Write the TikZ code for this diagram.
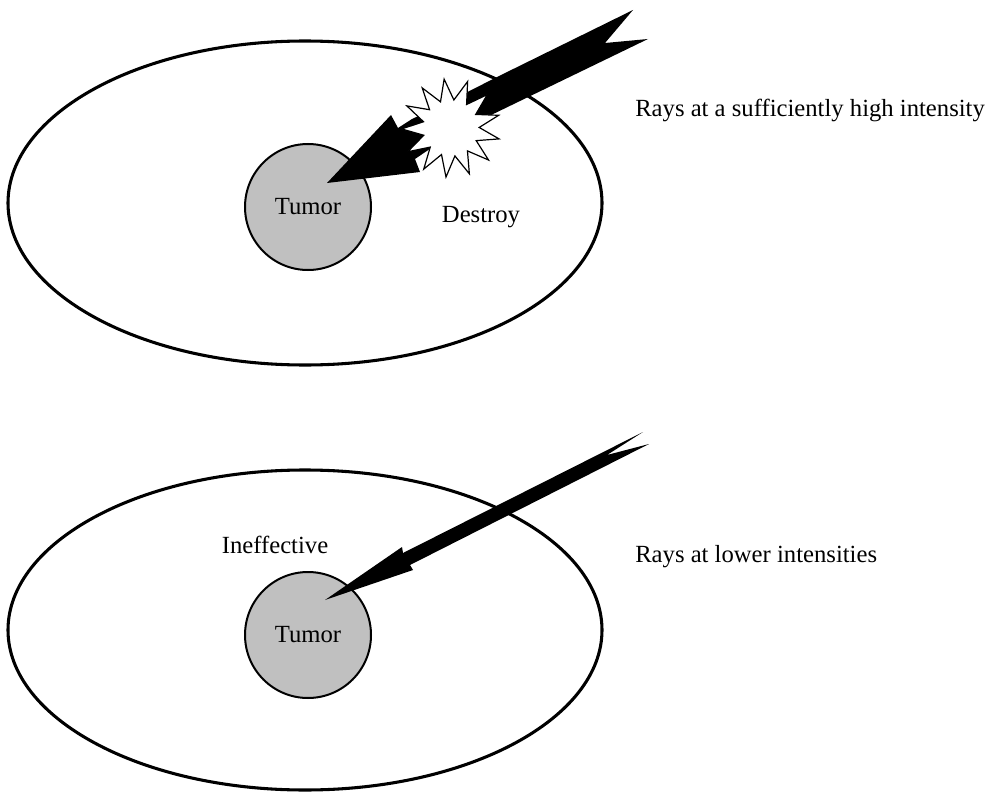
\documentclass[tikz,border=0pt]{standalone}
\usepackage{fontspec}
\setmainfont{Liberation Serif}
\definecolor{tumorgray}{RGB}{192, 192, 192}
\usetikzlibrary{shapes.geometric, positioning}

\begin{document}
\begin{tikzpicture}[
  x=0.75pt, y=-0.75pt,
  body/.style={line width=2.3pt},
  lbl/.style={inner sep=0pt, font=\fontsize{18.5}{22}\selectfont},
  tumor/.style={lbl, draw, circle, line width=1.5pt, fill=tumorgray, minimum size=94.5pt},
  ray/.style={fill=black},
  blast/.style={draw, fill=white, line width=0.9pt, star, star points=13, star point ratio=1.75,
    minimum size=74pt, inner sep=0pt}
]
  \useasboundingbox (0,0) rectangle (993,792);

  % high intensity
  \draw[body] (305,203) ellipse [x radius=222.75pt, y radius=121.5pt];
  \node[tumor] (tumorA) at (308,207) {Tumor};
  \fill[ray] (327,183) -- (391,115) -- (398,128) -- (412,119) -- (440,106) -- (497,77)
    -- (633,10) -- (605,43) -- (648,39) -- (487,117) -- (440,142) -- (415,159) -- (420,172) -- cycle;
  \node[blast, rotate=8] (burst) at (451,128) {};
  \node[lbl] (destroy) at (481,217) {Destroy};
  \node[lbl, anchor=west] (highray) at (635,110) {Rays at a sufficiently high intensity};

  % lower intensities
  \draw[body] (305,630) ellipse [x radius=222.75pt, y radius=120pt];
  \node[tumor] (tumorB) at (308,635) {Tumor};
  \fill[ray] (325,600) -- (402,547) -- (403,553) -- (643,432) -- (607,455) -- (649,444)
    -- (410,565) -- (413,570) -- cycle;
  \node[lbl] (ineffective) at (275,545) {Ineffective};
  \node[lbl, anchor=west] (lowray) at (635,557) {Rays at lower intensities};
\end{tikzpicture}
\end{document}
